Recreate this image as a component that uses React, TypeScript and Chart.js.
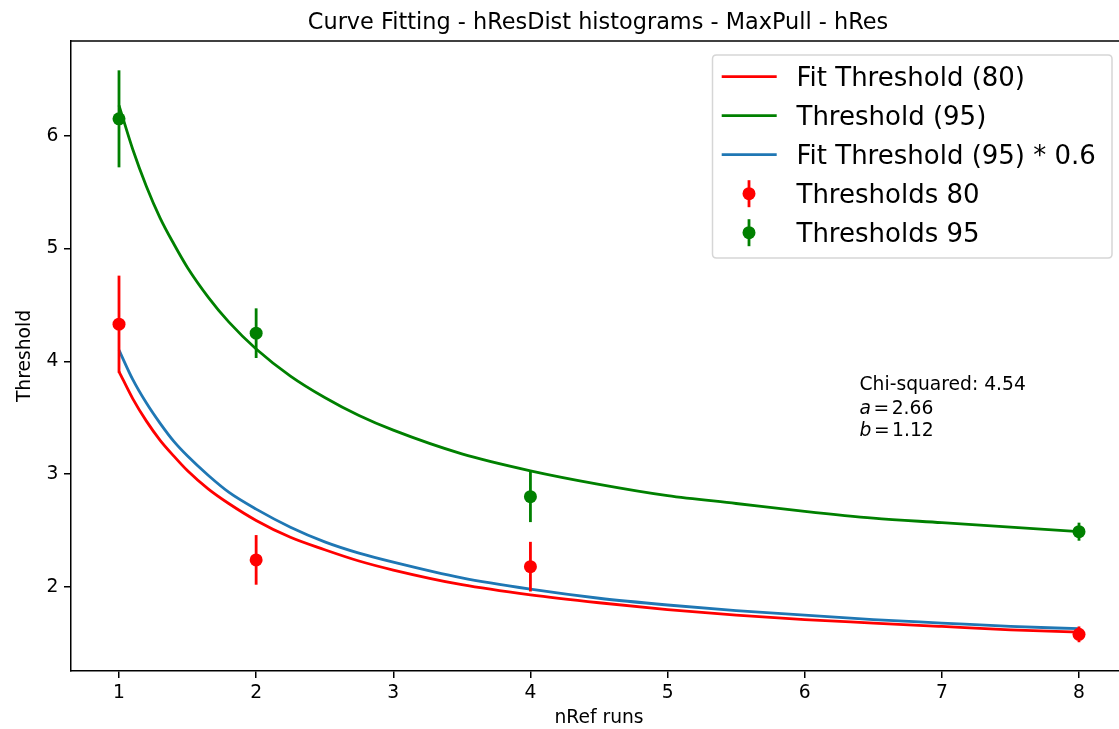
import React, { useEffect, useRef } from 'react';
import { Chart, registerables } from 'chart.js';

Chart.register(...registerables);

const FONT = '"DejaVu Sans", "Liberation Sans", sans-serif';

// ---- data ----
const nRuns = [1, 2, 4, 8];
const thresholds80 = [4.33, 2.24, 2.18, 1.58];
const errors80 = [0.43, 0.22, 0.22, 0.07];
const thresholds95 = [6.15, 4.25, 2.8, 2.49];
const errors95 = [0.43, 0.22, 0.225, 0.08];

const curveX = [1, 1.1, 1.2, 1.3, 1.4, 1.5, 1.65, 1.8, 2, 2.25, 2.5, 2.75, 3, 3.5, 4, 4.5, 5, 5.5, 6, 6.5, 7, 7.5, 8];
const fitThreshold80 = [3.91, 3.67, 3.47, 3.3, 3.16, 3.03, 2.87, 2.74, 2.59, 2.44, 2.33, 2.23, 2.15, 2.02, 1.93, 1.86, 1.8, 1.75, 1.71, 1.68, 1.65, 1.62, 1.6];
const threshold95 = [6.27, 5.88, 5.55, 5.27, 5.04, 4.83, 4.57, 4.35, 4.11, 3.87, 3.68, 3.52, 3.39, 3.18, 3.03, 2.91, 2.81, 2.74, 2.67, 2.61, 2.57, 2.53, 2.49];
const fitThreshold95x06 = [4.1, 3.84, 3.63, 3.45, 3.29, 3.16, 2.99, 2.84, 2.69, 2.53, 2.4, 2.3, 2.22, 2.08, 1.98, 1.9, 1.84, 1.79, 1.75, 1.71, 1.68, 1.65, 1.63];

const xTickValues = [1, 2, 3, 4, 5, 6, 7, 8];
const yTickValues = [2, 3, 4, 5, 6];

const titleText = 'Curve Fitting - hResDist histograms - MaxPull - hRes';
const xLabel = 'nRef runs';
const yLabel = 'Threshold';
const chiSquared = '4.54';
const paramA = '2.66';
const paramB = '1.12';

const RED = '#ff0000';
const GREEN = '#008000';
const BLUE = '#1f77b4';

const legendItems = [
  { label: 'Fit Threshold (80)', color: RED, kind: 'line' },
  { label: 'Threshold (95)', color: GREEN, kind: 'line' },
  { label: 'Fit Threshold (95) * 0.6', color: BLUE, kind: 'line' },
  { label: 'Thresholds 80', color: RED, kind: 'marker' },
  { label: 'Thresholds 95', color: GREEN, kind: 'marker' },
];

const pts = (xs: number[], ys: number[]) => xs.map((v, i) => ({ x: v, y: ys[i] }));

const overlayPlugin = {
  id: 'overlay',
  afterDatasetsDraw(chart: any) {
    const { ctx, scales } = chart;
    const x = scales.x;
    const y = scales.y;
    ctx.save();
    ctx.lineWidth = 2.8;
    ctx.lineCap = 'butt';
    const drawErr = (vals: number[], errs: number[], color: string) => {
      ctx.strokeStyle = color;
      vals.forEach((v, i) => {
        const px = x.getPixelForValue(nRuns[i]);
        ctx.beginPath();
        ctx.moveTo(px, y.getPixelForValue(v - errs[i]));
        ctx.lineTo(px, y.getPixelForValue(v + errs[i]));
        ctx.stroke();
      });
    };
    drawErr(thresholds80, errors80, RED);
    drawErr(thresholds95, errors95, GREEN);
    ctx.restore();
  },
  afterDraw(chart: any) {
    const { ctx, chartArea, scales } = chart;
    const x = scales.x;
    const y = scales.y;
    ctx.save();
    // top spine
    ctx.strokeStyle = '#000';
    ctx.lineWidth = 1.5;
    ctx.beginPath();
    ctx.moveTo(chartArea.left, chartArea.top);
    ctx.lineTo(chartArea.right, chartArea.top);
    ctx.stroke();

    // title (centred on the full axes width, whose right part is cropped)
    ctx.fillStyle = '#000';
    ctx.font = `22.4px ${FONT}`;
    ctx.textAlign = 'center';
    ctx.textBaseline = 'alphabetic';
    ctx.fillText(titleText, (chartArea.left + chartArea.right) / 2 - 1, 29);

    // annotation
    const ax = x.getPixelForValue(6.4);
    const ay = y.getPixelForValue(3.75);
    ctx.textAlign = 'left';
    ctx.font = `18.7px ${FONT}`;
    ctx.fillText(`Chi-squared: ${chiSquared}`, ax, ay);
    const mathLine = (sym: string, val: string, base: number) => {
      let cx = ax;
      ctx.font = `italic 18.7px ${FONT}`;
      ctx.fillText(sym, cx, base);
      cx += ctx.measureText(sym).width + 2.5;
      ctx.font = `18.7px ${FONT}`;
      ctx.fillText('=', cx, base);
      cx += ctx.measureText('=').width + 2.5;
      ctx.fillText(val, cx, base);
    };
    mathLine('a', paramA, ay + 24.5);
    mathLine('b', paramB, ay + 46.5);

    // legend
    const bx = 712.5, by = 55, bw = 399.5, bh = 203, r = 4;
    ctx.beginPath();
    ctx.moveTo(bx + r, by);
    ctx.lineTo(bx + bw - r, by);
    ctx.quadraticCurveTo(bx + bw, by, bx + bw, by + r);
    ctx.lineTo(bx + bw, by + bh - r);
    ctx.quadraticCurveTo(bx + bw, by + bh, bx + bw - r, by + bh);
    ctx.lineTo(bx + r, by + bh);
    ctx.quadraticCurveTo(bx, by + bh, bx, by + bh - r);
    ctx.lineTo(bx, by + r);
    ctx.quadraticCurveTo(bx, by, bx + r, by);
    ctx.closePath();
    ctx.fillStyle = 'rgba(255,255,255,0.8)';
    ctx.fill();
    ctx.strokeStyle = '#d6d6d6';
    ctx.lineWidth = 1.5;
    ctx.stroke();

    ctx.font = `26px ${FONT}`;
    ctx.textBaseline = 'alphabetic';
    legendItems.forEach((it, i) => {
      const cy = 76.7 + i * 39;
      if (it.kind === 'line') {
        ctx.strokeStyle = it.color;
        ctx.lineWidth = 2.8;
        ctx.beginPath();
        ctx.moveTo(721.7, cy);
        ctx.lineTo(776.7, cy);
        ctx.stroke();
      } else {
        ctx.strokeStyle = it.color;
        ctx.lineWidth = 2.8;
        ctx.beginPath();
        ctx.moveTo(749, cy - 13.5);
        ctx.lineTo(749, cy + 13.5);
        ctx.stroke();
        ctx.fillStyle = it.color;
        ctx.beginPath();
        ctx.arc(749, cy, 6.5, 0, Math.PI * 2);
        ctx.fill();
      }
      ctx.fillStyle = '#000';
      ctx.fillText(it.label, 796.5, cy + 9);
    });
    ctx.restore();
  },
};

export default function App() {
  const canvasRef = useRef<HTMLCanvasElement | null>(null);

  useEffect(() => {
    if (!canvasRef.current) return;
    const tickFont = { family: FONT, size: 18.7 };
    const lineDs = (label: string, ys: number[], color: string) => ({
      label,
      data: pts(curveX, ys),
      borderColor: color,
      backgroundColor: color,
      borderWidth: 2.8,
      pointRadius: 0,
      cubicInterpolationMode: 'monotone',
      fill: false,
    });
    const pointDs = (label: string, ys: number[], color: string) => ({
      label,
      data: pts(nRuns, ys),
      showLine: false,
      pointRadius: 6.5,
      pointBorderWidth: 0,
      pointBackgroundColor: color,
      borderColor: color,
      backgroundColor: color,
    });
    const chart = new Chart(canvasRef.current, {
      type: 'line',
      data: {
        datasets: [
          pointDs('Thresholds 80', thresholds80, RED),
          pointDs('Thresholds 95', thresholds95, GREEN),
          lineDs('Fit Threshold (95) * 0.6', fitThreshold95x06, BLUE),
          lineDs('Threshold (95)', threshold95, GREEN),
          lineDs('Fit Threshold (80)', fitThreshold80, RED),
        ],
      },
      options: {
        responsive: false,
        animation: false,
        devicePixelRatio: 1,
        layout: { autoPadding: false, padding: { left: 0, right: 13, top: 41, bottom: 0 } },
        plugins: {
          legend: { display: false },
          title: { display: false },
          tooltip: { enabled: false },
        },
        scales: {
          x: {
            type: 'linear',
            min: 0.65,
            max: 8.35,
            afterFit: (s: any) => {
              s.height = 58;
            },
            afterBuildTicks: (s: any) => {
              s.ticks = xTickValues.map((v) => ({ value: v }));
            },
            ticks: {
              color: '#000',
              font: tickFont,
              padding: 3.5,
              maxRotation: 0,
              autoSkip: false,
              includeBounds: false,
              callback: (v: any) => String(v),
            },
            grid: {
              drawOnChartArea: false,
              drawTicks: true,
              tickLength: 7,
              color: '#000',
              lineWidth: 1.5,
            },
            border: { display: true, color: '#000', width: 1.5 },
            title: {
              display: true,
              text: xLabel,
              color: '#000',
              font: tickFont,
              padding: { top: 0, bottom: 0 },
            },
          },
          y: {
            type: 'linear',
            min: 1.255,
            max: 6.84,
            afterFit: (s: any) => {
              s.width = 71;
            },
            afterBuildTicks: (s: any) => {
              s.ticks = yTickValues.map((v) => ({ value: v }));
            },
            ticks: {
              color: '#000',
              font: tickFont,
              padding: 5.5,
              autoSkip: false,
              includeBounds: false,
              callback: (v: any) => String(v),
            },
            grid: {
              drawOnChartArea: false,
              drawTicks: true,
              tickLength: 7,
              color: '#000',
              lineWidth: 1.5,
            },
            border: { display: true, color: '#000', width: 1.5 },
            title: {
              display: true,
              text: yLabel,
              color: '#000',
              font: tickFont,
              padding: { top: 14, bottom: 0 },
            },
          },
        },
      },
      plugins: [overlayPlugin],
    } as any);
    return () => chart.destroy();
  }, []);

  return (
    <div
      style={{
        position: 'absolute',
        left: 0,
        top: 0,
        width: 1119,
        height: 729,
        overflow: 'hidden',
        background: '#fff',
      }}
    >
      <canvas ref={canvasRef} width={1140} height={729} style={{ display: 'block' }} />
    </div>
  );
}
